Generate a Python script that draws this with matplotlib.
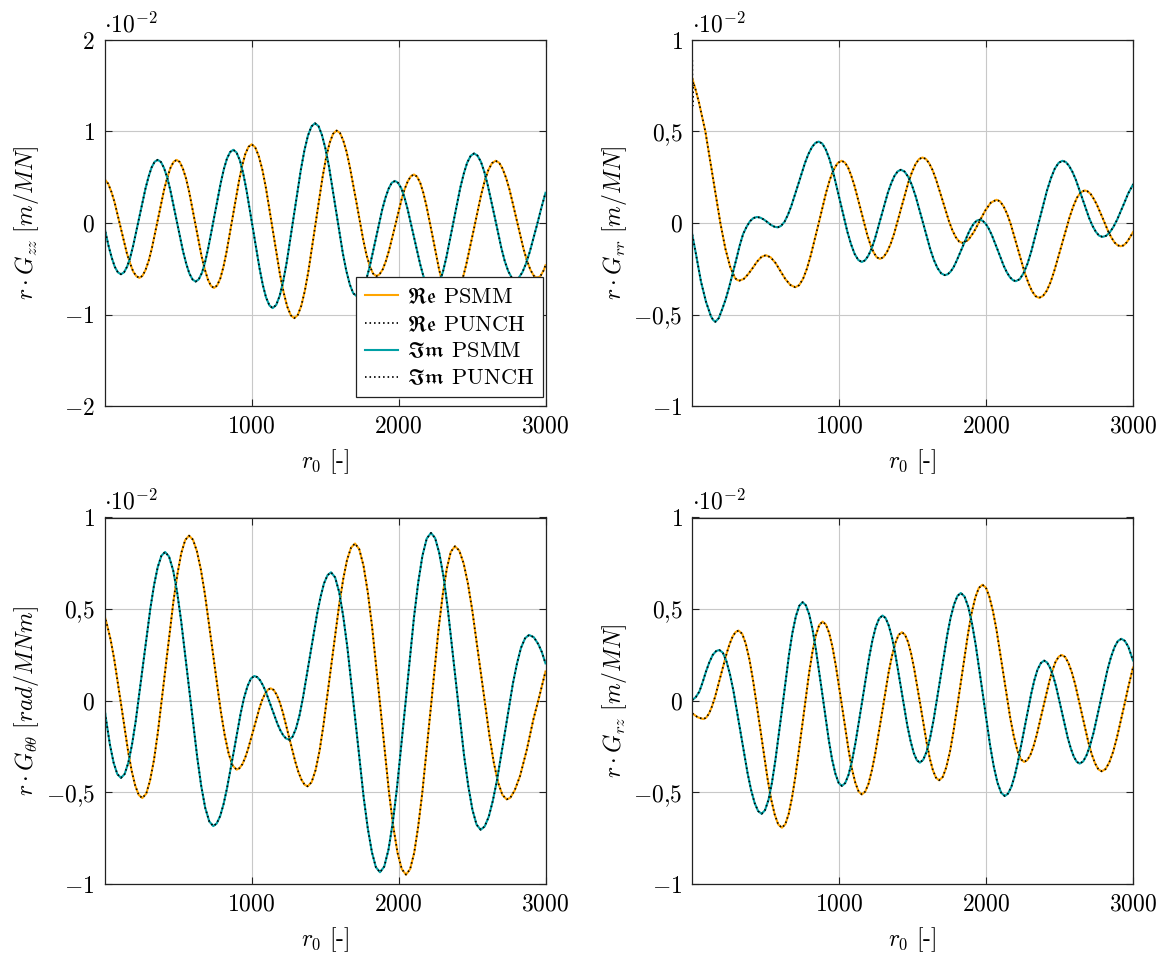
import numpy as np
import matplotlib
matplotlib.use("Agg")
import matplotlib.pyplot as plt

# Green's functions along the surface, values scaled by 1e-2
# G_zz
gzz_x_re = [0, 25, 47, 68, 110, 152, 174, 195, 216, 237,
            258, 279, 301, 322, 364, 406, 428, 449, 470, 491,
            512, 533, 555, 576, 618, 660, 682, 703, 724, 745,
            766, 788, 809, 830, 873, 916, 937, 958, 980, 1001,
            1025, 1049, 1074, 1098, 1146, 1194, 1219, 1243, 1267, 1291,
            1315, 1339, 1363, 1387, 1435, 1483, 1507, 1531, 1555, 1579,
            1602, 1624, 1647, 1669, 1715, 1760, 1782, 1805, 1827, 1850,
            1871, 1893, 1914, 1935, 1978, 2020, 2041, 2063, 2084, 2105,
            2126, 2148, 2169, 2190, 2233, 2275, 2296, 2318, 2339, 2360,
            2385, 2410, 2435, 2460, 2511, 2561, 2586, 2611, 2636, 2661,
            2685, 2708, 2732, 2756, 2803, 2850, 2874, 2898, 2921, 2945,
            2966, 2988, 3000]
gzz_re = [0.48, 0.43, 0.34, 0.23, -0.05, -0.33, -0.44, -0.53, -0.58, -0.60,
          -0.578, -0.514, -0.411, -0.278, 0.045, 0.368, 0.501, 0.604, 0.668, 0.69,
          0.666, 0.596, 0.485, 0.34, -0.01, -0.36, -0.505, -0.616, -0.686, -0.71,
          -0.683, -0.605, -0.48, -0.318, 0.075, 0.468, 0.63, 0.755, 0.833, 0.86,
          0.828, 0.733, 0.582, 0.385, -0.09, -0.565, -0.762, -0.913, -1.008, -1.04,
          -1.005, -0.903, -0.74, -0.528, -0.015, 0.498, 0.71, 0.873, 0.975, 1.01,
          0.983, 0.903, 0.777, 0.613, 0.215, -0.183, -0.347, -0.473, -0.553, -0.58,
          -0.561, -0.506, -0.417, -0.303, -0.025, 0.253, 0.367, 0.456, 0.511, 0.53,
          0.507, 0.438, 0.329, 0.188, -0.155, -0.498, -0.639, -0.748, -0.817, -0.84,
          -0.814, -0.738, -0.617, -0.46, -0.08, 0.30, 0.457, 0.578, 0.654, 0.68,
          0.658, 0.594, 0.492, 0.36, 0.04, -0.28, -0.412, -0.514, -0.578, -0.60,
          -0.579, -0.516, -0.462]
gzz_x_im = [0, 8, 29, 50, 70, 91, 112,
            133, 154, 175, 195, 237, 279, 300, 320, 341, 362,
            384, 405, 427, 448, 491, 534, 556, 577, 599, 620,
            641, 663, 684, 705, 748, 791, 812, 833, 855, 876,
            898, 921, 943, 965, 1010, 1055, 1077, 1099, 1122, 1144,
            1168, 1192, 1216, 1240, 1288, 1336, 1360, 1384, 1408, 1432,
            1456, 1479, 1503, 1527, 1574, 1621, 1645, 1669, 1692, 1716,
            1738, 1759, 1781, 1803, 1846, 1889, 1911, 1933, 1954, 1976,
            1997, 2019, 2040, 2061, 2104, 2147, 2168, 2189, 2211, 2232,
            2256, 2279, 2303, 2326, 2373, 2420, 2444, 2467, 2491, 2514,
            2537, 2561, 2584, 2607, 2654, 2700, 2723, 2747, 2770, 2793,
            2818, 2843, 2868, 2893, 2944, 2969, 2994, 3000]
gzz_im = [-0.05, -0.11, -0.26, -0.383, -0.479, -0.539, -0.56,
          -0.539, -0.476, -0.377, -0.248, 0.065, 0.378, 0.507, 0.606, 0.669, 0.69,
          0.667, 0.601, 0.495, 0.358, 0.025, -0.308, -0.445, -0.551, -0.617, -0.64,
          -0.616, -0.544, -0.429, -0.28, 0.08, 0.44, 0.589, 0.704, 0.776, 0.80,
          0.771, 0.684, 0.547, 0.368, -0.065, -0.498, -0.677, -0.814, -0.901, -0.93,
          -0.896, -0.795, -0.634, -0.425, 0.08, 0.585, 0.794, 0.955, 1.056, 1.09,
          1.058, 0.963, 0.813, 0.618, 0.145, -0.328, -0.523, -0.673, -0.768, -0.80,
          -0.779, -0.716, -0.615, -0.485, -0.17, 0.145, 0.275, 0.376, 0.439, 0.46,
          0.439, 0.379, 0.283, 0.158, -0.145, -0.448, -0.573, -0.669, -0.729, -0.75,
          -0.724, -0.649, -0.529, -0.373, 0.005, 0.383, 0.539, 0.659, 0.734, 0.76,
          0.737, 0.668, 0.558, 0.415, 0.07, -0.275, -0.418, -0.528, -0.597, -0.62,
          -0.599, -0.538, -0.441, -0.315, -0.01, 0.148, 0.295, 0.33]

# G_rr
grr_x_re = [0, 22, 45, 89, 140, 191, 225, 258, 290, 305, 320,
            350, 380, 411, 441, 471, 501,
            534, 568, 601, 634, 668, 701,
            727, 754, 780, 806, 859, 911, 937, 964, 990, 1016,
            1038, 1060, 1081, 1103, 1147, 1190, 1212, 1234, 1255, 1277,
            1301, 1325, 1350, 1374, 1422, 1470, 1495, 1519, 1543, 1567,
            1590, 1612, 1635, 1658, 1703, 1748, 1771, 1794, 1816, 1839,
            1878, 1916, 1955, 1994, 2032, 2071,
            2095, 2119, 2144, 2168, 2216, 2264, 2289, 2313, 2337, 2361,
            2387, 2413, 2439, 2464, 2516, 2568, 2594, 2619, 2645, 2671,
            2691, 2712, 2732, 2753, 2794, 2834, 2855, 2875, 2896, 2916,
            2937, 2958, 2979, 3000]
grr_re = [0.79, 0.73, 0.66, 0.50, 0.25, 0.0, -0.14, -0.24, -0.30, -0.311, -0.315,
          -0.306, -0.280, -0.246, -0.211, -0.185, -0.176,
          -0.188, -0.220, -0.264, -0.307, -0.339, -0.351,
          -0.340, -0.305, -0.250, -0.178, -0.006, 0.167, 0.239, 0.294, 0.328, 0.340,
          0.331, 0.304, 0.261, 0.206, 0.072, -0.062, -0.117, -0.160, -0.187, -0.196,
          -0.187, -0.159, -0.115, -0.058, 0.081, 0.220, 0.277, 0.321, 0.349, 0.358,
          0.350, 0.327, 0.290, 0.241, 0.125, 0.008, -0.041, -0.078, -0.101, -0.109,
          -0.093, -0.050, 0.009, 0.068, 0.111, 0.127,
          0.118, 0.091, 0.048, -0.007, -0.141, -0.275, -0.330, -0.373, -0.400, -0.409,
          -0.399, -0.370, -0.323, -0.262, -0.116, 0.031, 0.092, 0.139, 0.168, 0.178,
          0.173, 0.158, 0.133, 0.102, 0.026, -0.051, -0.082, -0.107, -0.122, -0.127,
          -0.122, -0.105, -0.079, -0.05]
# PUNCH jumps at the first samples
grr_x_re_punch = [0, 2, 5] + grr_x_re[1:]
grr_re_punch = [0.89, 0.64, 0.77] + grr_re[1:]
grr_x_im = [0, 25, 59, 93, 127, 142, 157,
            180, 204, 228, 251, 275, 299, 322, 346, 370, 393, 416, 440,
            464, 487, 511, 534, 558, 581,
            604, 628, 651, 674, 721, 767, 790, 814, 837, 860,
            885, 909, 934, 958, 1007, 1056, 1081, 1105, 1130, 1154,
            1176, 1198, 1221, 1243, 1287, 1331, 1354, 1376, 1398, 1420,
            1445, 1470, 1495, 1520, 1570, 1619, 1644, 1669, 1694, 1719,
            1739, 1759, 1779, 1798, 1838, 1878, 1898, 1917, 1937, 1957,
            1977, 1998, 2018, 2039, 2080, 2120, 2141, 2161, 2182, 2202,
            2229, 2255, 2282, 2308, 2361, 2414, 2441, 2467, 2494, 2520,
            2543, 2565, 2588, 2611, 2656, 2701, 2724, 2747, 2769, 2792,
            2817, 2842, 2867, 2892, 2942, 2967, 3000]
grr_im = [-0.064, -0.17, -0.32, -0.43, -0.51, -0.53, -0.54,
          -0.52, -0.47, -0.415, -0.35, -0.275, -0.20, -0.125, -0.06, -0.02, 0.01, 0.027, 0.033,
          0.029, 0.019, 0.005, -0.010, -0.020, -0.024,
          -0.016, 0.007, 0.045, 0.093, 0.211, 0.328, 0.376, 0.414, 0.437, 0.445,
          0.434, 0.401, 0.349, 0.281, 0.116, -0.049, -0.117, -0.169, -0.202, -0.213,
          -0.204, -0.179, -0.139, -0.087, 0.039, 0.165, 0.217, 0.257, 0.282, 0.291,
          0.281, 0.252, 0.207, 0.147, 0.003, -0.141, -0.201, -0.246, -0.275, -0.285,
          -0.280, -0.265, -0.241, -0.209, -0.134, -0.058, -0.026, -0.002, 0.013, 0.018,
          0.012, -0.005, -0.031, -0.066, -0.150, -0.234, -0.269, -0.295, -0.312, -0.318,
          -0.307, -0.274, -0.222, -0.154, 0.011, 0.176, 0.244, 0.296, 0.329, 0.340,
          0.333, 0.312, 0.279, 0.236, 0.132, 0.028, -0.015, -0.048, -0.069, -0.076,
          -0.070, -0.051, -0.021, 0.018, 0.112, 0.161, 0.21]

# G_thetatheta
gtt_x_re = [0, 18, 42, 66, 114, 161, 185, 209, 233, 257,
            284, 310, 337, 363, 416, 469, 496, 522, 549, 575,
            602, 629, 656, 683, 737, 791, 818, 845, 872, 899,
            918, 938, 957, 976, 1015, 1053, 1072, 1092, 1111, 1130,
            1151, 1172, 1193, 1214, 1256, 1298, 1319, 1340, 1361, 1382,
            1409, 1436, 1463, 1489, 1543, 1597, 1624, 1650, 1677, 1704,
            1733, 1762, 1791, 1820, 1878, 1935, 1964, 1993, 2022, 2051,
            2079, 2107, 2134, 2162, 2218, 2273, 2301, 2329, 2356, 2384,
            2413, 2443, 2472, 2501, 2560, 2619, 2648, 2677, 2707, 2736,
            2760, 2790, 2827, 2872, 2918, 2960, 3000]
gtt_re = [0.465, 0.412, 0.332, 0.227, -0.026, -0.278, -0.383, -0.463, -0.514, -0.531,
          -0.507, -0.435, -0.321, -0.173, 0.185, 0.543, 0.691, 0.805, 0.877, 0.901,
          0.879, 0.815, 0.714, 0.582, 0.263, -0.057, -0.189, -0.290, -0.354, -0.376,
          -0.368, -0.346, -0.311, -0.265, -0.154, -0.043, 0.003, 0.038, 0.060, 0.068,
          0.059, 0.032, -0.010, -0.066, -0.200, -0.333, -0.389, -0.431, -0.458, -0.467,
          -0.444, -0.378, -0.273, -0.136, 0.196, 0.527, 0.664, 0.769, 0.835, 0.858,
          0.827, 0.737, 0.593, 0.406, -0.046, -0.497, -0.684, -0.828, -0.918, -0.949,
          -0.919, -0.829, -0.686, -0.501, -0.053, 0.395, 0.580, 0.723, 0.813, 0.843,
          0.820, 0.750, 0.641, 0.498, 0.153, -0.193, -0.336, -0.445, -0.514, -0.538,
          -0.53, -0.49, -0.41, -0.27, -0.10, 0.03, 0.16]
gtt_x_im = [0, 12, 37, 62, 87, 112,
            137, 162, 187, 212, 262, 312, 337, 362, 387, 412,
            439, 467, 494, 521, 576, 631, 658, 685, 713, 740,
            763, 787, 810, 833, 880, 926, 949, 973, 996, 1019,
            1039, 1058, 1078, 1098, 1137, 1176, 1196, 1216, 1235, 1255,
            1279, 1303, 1327, 1350, 1398, 1446, 1470, 1493, 1517, 1541,
            1569, 1597, 1624, 1652, 1708, 1763, 1791, 1819, 1846, 1874,
            1903, 1932, 1961, 1990, 2048, 2105, 2134, 2163, 2192, 2221,
            2249, 2277, 2306, 2334, 2390, 2446, 2475, 2503, 2531, 2559,
            2586, 2614, 2641, 2669, 2724, 2778, 2806, 2833, 2861, 2888,
            2920, 2951, 2975, 3000]
gtt_im = [-0.042, -0.11, -0.240, -0.338, -0.400, -0.421,
          -0.400, -0.338, -0.240, -0.113, 0.196, 0.504, 0.631, 0.729, 0.791, 0.812,
          0.787, 0.712, 0.593, 0.438, 0.064, -0.310, -0.465, -0.584, -0.659, -0.684,
          -0.670, -0.629, -0.564, -0.479, -0.275, -0.070, 0.015, 0.080, 0.121, 0.135,
          0.129, 0.112, 0.084, 0.048, -0.039, -0.125, -0.161, -0.189, -0.206, -0.212,
          -0.197, -0.151, -0.078, 0.016, 0.245, 0.473, 0.567, 0.640, 0.685, 0.701,
          0.673, 0.591, 0.461, 0.292, -0.118, -0.527, -0.696, -0.826, -0.908, -0.936,
          -0.905, -0.812, -0.665, -0.473, -0.010, 0.453, 0.645, 0.792, 0.885, 0.916,
          0.888, 0.807, 0.679, 0.511, 0.106, -0.299, -0.467, -0.595, -0.676, -0.704,
          -0.686, -0.633, -0.548, -0.438, -0.173, 0.093, 0.203, 0.288, 0.341, 0.359,
          0.347, 0.309, 0.266, 0.204]

# G_rz
grz_x_re = [0, 37, 75, 95, 115, 135, 155, 195, 235, 255, 275, 295, 315,
            340, 364, 389, 413, 463, 512, 536, 561, 585, 610,
            633, 656, 679, 702, 749, 795, 818, 841, 864, 887,
            909, 932, 954, 976, 1021, 1065, 1087, 1110, 1132, 1154,
            1177, 1200, 1222, 1245, 1291, 1336, 1359, 1382, 1404, 1427,
            1448, 1469, 1490, 1511, 1554, 1596, 1617, 1638, 1659, 1680,
            1705, 1729, 1754, 1778, 1828, 1877, 1901, 1926, 1950, 1975,
            1999, 2022, 2046, 2070, 2117, 2164, 2188, 2212, 2235, 2259,
            2280, 2302, 2323, 2344, 2387, 2430, 2451, 2472, 2494, 2515,
            2538, 2560, 2583, 2606, 2651, 2696, 2719, 2742, 2764, 2787,
            2813, 2839, 2865, 2890, 2942, 2968, 3000]
grz_re = [-0.069, -0.09, -0.10, -0.092, -0.068, -0.029, 0.021, 0.142, 0.262, 0.312, 0.351, 0.375, 0.383,
          0.365, 0.311, 0.225, 0.114, -0.155, -0.424, -0.535, -0.621, -0.675, -0.693,
          -0.674, -0.618, -0.528, -0.412, -0.131, 0.151, 0.267, 0.357, 0.413, 0.432,
          0.416, 0.369, 0.294, 0.196, -0.040, -0.275, -0.373, -0.448, -0.495, -0.511,
          -0.496, -0.452, -0.381, -0.290, -0.069, 0.153, 0.244, 0.315, 0.359, 0.374,
          0.360, 0.320, 0.256, 0.172, -0.030, -0.232, -0.316, -0.380, -0.420, -0.434,
          -0.416, -0.363, -0.278, -0.167, 0.100, 0.366, 0.477, 0.562, 0.615, 0.633,
          0.617, 0.568, 0.491, 0.391, 0.150, -0.092, -0.192, -0.269, -0.318, -0.334,
          -0.324, -0.295, -0.248, -0.188, -0.042, 0.104, 0.164, 0.211, 0.240, 0.250,
          0.239, 0.207, 0.157, 0.091, -0.068, -0.226, -0.292, -0.342, -0.374, -0.385,
          -0.373, -0.336, -0.278, -0.203, -0.020, 0.075, 0.181]
grz_x_im = [0, 24, 48, 70, 93, 116, 139, 162, 184,
            208, 232, 256, 280, 328, 376, 400, 424, 448, 472,
            495, 519, 542, 565, 612, 658, 681, 705, 728, 751,
            773, 796, 818, 840, 885, 929, 951, 974, 996, 1018,
            1041, 1064, 1087, 1110, 1157, 1203, 1226, 1249, 1272, 1295,
            1316, 1337, 1359, 1380, 1422, 1464, 1486, 1507, 1528, 1549,
            1572, 1596, 1619, 1642, 1689, 1735, 1758, 1782, 1805, 1828,
            1853, 1878, 1903, 1928, 1978, 2027, 2052, 2077, 2102, 2127,
            2149, 2172, 2194, 2216, 2261, 2306, 2328, 2350, 2373, 2395,
            2415, 2435, 2456, 2476, 2516, 2556, 2577, 2597, 2617, 2637,
            2661, 2684, 2708, 2732, 2779, 2826, 2850, 2874, 2897, 2921,
            2944, 2968, 3000]
grz_im = [0.004, 0.02, 0.05, 0.10, 0.159, 0.21, 0.25, 0.271, 0.277,
          0.262, 0.217, 0.146, 0.054, -0.170, -0.394, -0.486, -0.557, -0.602, -0.617,
          -0.597, -0.540, -0.448, -0.328, -0.040, 0.249, 0.369, 0.461, 0.518, 0.538,
          0.521, 0.471, 0.391, 0.287, 0.037, -0.214, -0.318, -0.398, -0.448, -0.465,
          -0.449, -0.403, -0.329, -0.233, 0.0, 0.233, 0.329, 0.403, 0.449, 0.465,
          0.451, 0.411, 0.347, 0.264, 0.064, -0.137, -0.220, -0.284, -0.324, -0.338,
          -0.322, -0.276, -0.202, -0.107, 0.125, 0.357, 0.452, 0.526, 0.572, 0.588,
          0.569, 0.514, 0.426, 0.311, 0.034, -0.243, -0.358, -0.446, -0.501, -0.520,
          -0.507, -0.470, -0.412, -0.335, -0.151, 0.034, 0.111, 0.170, 0.206, 0.219,
          0.209, 0.181, 0.137, 0.079, -0.062, -0.203, -0.261, -0.305, -0.333, -0.343,
          -0.331, -0.297, -0.243, -0.173, -0.003, 0.168, 0.238, 0.292, 0.326, 0.338,
          0.327, 0.295, 0.22]

xticks = [1000, 2000, 3000]
xticklabels = ["$1000$", "$2000$", "$3000$"]
yticks_zz = [-2, -1, 0, 1, 2]
yticklabels_zz = ["$-2$", "$-1$", "$0$", "$1$", "$2$"]
yticks = [-1, -0.5, 0, 0.5, 1]
yticklabels = ["$-1$", "$-0{,}5$", "$0$", "$0{,}5$", "$1$"]
legend_labels = [r"$\mathfrak{Re}$ PSMM", r"$\mathfrak{Re}$ PUNCH", r"$\mathfrak{Im}$ PSMM", r"$\mathfrak{Im}$ PUNCH"]

ORANGE = "#ffa500"
TEAL = "#00a0a5"
DOTS = (0, (0.9, 1.7))

plt.rcParams.update({
    "font.family": "serif",
    "font.serif": ["cmr10"],
    "mathtext.fontset": "cm",
    "axes.formatter.use_mathtext": True,
    "axes.unicode_minus": False,
})

W, H = 1168, 955
fig = plt.figure(figsize=(W / 100, H / 100), dpi=100)


def make_axes(left, top, right, bottom):
    return fig.add_axes([left / W, 1 - bottom / H, (right - left) / W, (bottom - top) / H])


def draw_panel(ax, x_re, y_re, x_im, y_im, ylabel, yt, ytl, ylim, x_re_punch=None, y_re_punch=None):
    if x_re_punch is None:
        x_re_punch, y_re_punch = x_re, y_re
    lines = []
    lines += ax.plot(x_re, y_re, color=ORANGE, lw=1.5)
    lines += ax.plot(x_re_punch, y_re_punch, color="black", lw=1.25, ls=DOTS)
    lines += ax.plot(x_im, y_im, color=TEAL, lw=1.5)
    lines += ax.plot(x_im, y_im, color="black", lw=1.25, ls=DOTS)
    ax.set_xlim(0, 3000)
    ax.set_ylim(*ylim)
    ax.set_xticks(xticks)
    ax.set_xticklabels(xticklabels)
    ax.set_yticks(yt)
    ax.set_yticklabels(ytl)
    ax.tick_params(direction="in", top=True, right=True, length=5, width=0.8,
                   labelsize=17, pad=7, color="#222222")
    ax.grid(True, color="#c8c8c8", lw=0.8)
    ax.set_axisbelow(True)
    for sp in ax.spines.values():
        sp.set_color("#222222")
        sp.set_linewidth(0.9)
    ax.set_ylabel(ylabel, fontsize=17)
    ax.yaxis.set_label_coords(-0.143, 0.5)
    ax.set_xlabel(r"$r_0$ [-]", fontsize=17)
    ax.xaxis.set_label_coords(0.5, -0.113)
    ax.text(0.0, 1.008, r"$\cdot 10^{-2}$", transform=ax.transAxes, fontsize=17,
            ha="left", va="bottom")
    return lines


ax1 = make_axes(104.5, 40, 545.5, 406)
ax2 = make_axes(692.3, 40, 1133, 406)
ax3 = make_axes(104.5, 517.5, 545.5, 884)
ax4 = make_axes(692.3, 517.5, 1133, 884)

lines = draw_panel(ax1, gzz_x_re, gzz_re, gzz_x_im, gzz_im, r"$r \cdot G_{zz}\ [m/MN]$",
                   yticks_zz, yticklabels_zz, (-2, 2))
draw_panel(ax2, grr_x_re, grr_re, grr_x_im, grr_im, r"$r \cdot G_{rr}\ [m/MN]$",
           yticks, yticklabels, (-1, 1), grr_x_re_punch, grr_re_punch)
draw_panel(ax3, gtt_x_re, gtt_re, gtt_x_im, gtt_im, r"$r \cdot G_{\theta\theta}\ [rad/MNm]$",
           yticks, yticklabels, (-1, 1))
draw_panel(ax4, grz_x_re, grz_re, grz_x_im, grz_im, r"$r \cdot G_{rz}\ [m/MN]$",
           yticks, yticklabels, (-1, 1))

leg = ax1.legend(lines, legend_labels, loc="lower right", bbox_to_anchor=(0.995, 0.024),
                 borderaxespad=0, fontsize=16, fancybox=False, framealpha=1,
                 edgecolor="#222222", handlelength=1.5, handletextpad=0.4,
                 borderpad=0.4, labelspacing=0.32)
leg.get_frame().set_linewidth(0.9)

fig.savefig("out.png", dpi=100)
